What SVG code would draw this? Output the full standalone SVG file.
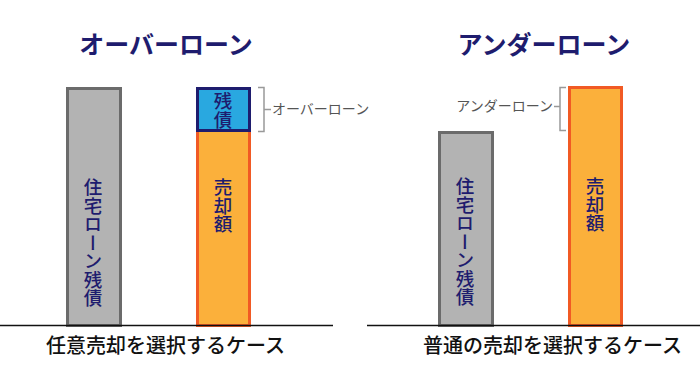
<svg xmlns="http://www.w3.org/2000/svg" width="700" height="371" viewBox="0 0 700 371">
<style>
.title{font-family:"Noto Sans CJK JP","Noto Sans",sans-serif;font-size:25px;font-weight:bold;fill:#1e1c6e;text-anchor:middle}
.vt{font-family:"Noto Sans CJK JP","Noto Sans",sans-serif;font-size:18.5px;font-weight:500;fill:#1e1c6e;writing-mode:vertical-rl;text-orientation:upright}
.cap{font-family:"Noto Sans CJK JP","Noto Sans",sans-serif;font-size:20px;font-weight:500;fill:#111;}
.lbl{font-family:"Noto Sans CJK JP","Noto Sans",sans-serif;font-size:14px;fill:#555;}
.gray{fill:#b3b3b3;stroke:#6b6b6b;stroke-width:3}
.orange{fill:#fbb03b;stroke:#f15a24;stroke-width:3}
.blue{fill:#29a8e0;stroke:#1e1c6e;stroke-width:3}
.br{fill:none;stroke:#999;stroke-width:1.5}
</style>
<rect width="700" height="371" fill="#fff"/>
<text class="title" x="166" y="54">オーバーローン</text>
<text class="title" x="544" y="54">アンダーローン</text>
<g id="left-loan"><rect class="gray" x="67.5" y="88.5" width="53" height="237"/><text class="vt" x="93" y="178">住宅ローン残債</text></g>
<g id="left-sale"><rect class="orange" x="197.5" y="130.5" width="52" height="195"/><text class="vt" x="223" y="178">売却額</text></g>
<g id="left-residual"><rect class="blue" x="197.5" y="88.5" width="52" height="42"/><text class="vt" x="223" y="92">残債</text></g>
<g id="right-loan"><rect class="gray" x="439.5" y="132.5" width="53" height="193"/><text class="vt" x="465" y="177">住宅ローン残債</text></g>
<g id="right-sale"><rect class="orange" x="569.5" y="87.5" width="52" height="238"/><text class="vt" x="595" y="177">売却額</text></g>
<g id="connectors">
<path class="br" d="M258 87.5H264V131.5H258M264 109.5H271"/>
<path class="br" d="M566 87.5H560V130.5H566M560 106.5H554"/>
<line x1="0" y1="325.5" x2="333" y2="325.5" stroke="#111" stroke-width="1.5"/>
<line x1="367" y1="325.5" x2="700" y2="325.5" stroke="#111" stroke-width="1.5"/>
</g>
<text class="lbl" x="272" y="114">オーバーローン</text>
<text class="lbl" x="553" y="111" text-anchor="end">アンダーローン</text>
<text class="cap" x="46" y="353">任意売却を選択するケース</text>
<text class="cap" x="423" y="353">普通の売却を選択するケース</text>
</svg>
